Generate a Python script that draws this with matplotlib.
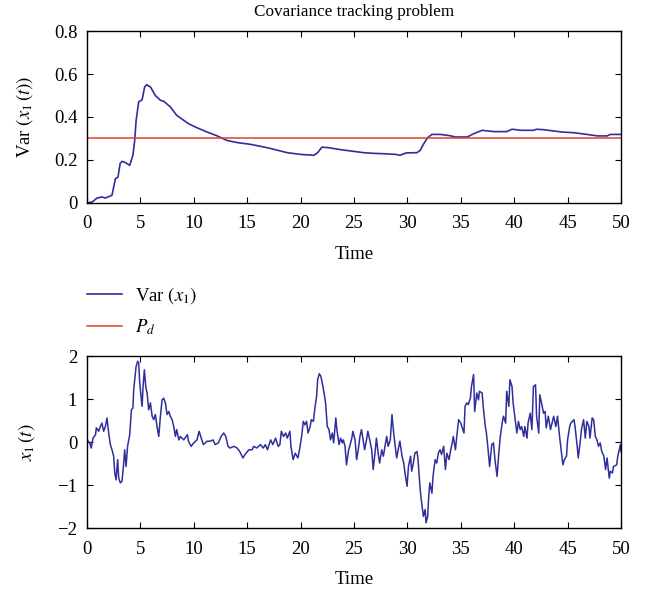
import numpy as np
import matplotlib.pyplot as plt

plt.rcParams['font.family'] = ['Liberation Serif', 'DejaVu Serif']
plt.rcParams['mathtext.fontset'] = 'stix'
plt.rcParams['font.size'] = 13.5

# variance of x1 (top panel)
var_t = [0, 0.5, 0.94, 1.4, 1.72, 2.34, 2.66, 2.9, 3.1, 3.28, 3.6, 4.0, 4.3, 4.47,
         4.6, 4.84, 5.16, 5.4, 5.6, 5.94, 6.4, 6.9, 7.2, 7.8, 8.4, 9.5, 10.3, 11.25,
         12.2, 13.1, 14.06, 15.3, 16.9, 18.75, 20.0, 21.25, 21.6, 22.0, 22.66, 23.75,
         25.0, 25.9, 26.8, 27.9, 28.9, 29.3, 29.9, 30.9, 31.2, 31.5, 31.9, 32.3, 33.1,
         34.0, 34.5, 35.6, 36.2, 37.0, 38.1, 39.3, 39.8, 40.7, 41.8, 42.1, 42.75, 43.7,
         44.5, 45.6, 46.8, 47.8, 48.7, 49.0, 50.0]
var_x1 = [0, 0.005, 0.023, 0.028, 0.023, 0.036, 0.113, 0.12, 0.183, 0.194, 0.188,
          0.175, 0.222, 0.291, 0.384, 0.47, 0.48, 0.54, 0.55, 0.54, 0.50, 0.477, 0.473,
          0.447, 0.408, 0.369, 0.35, 0.33, 0.312, 0.291, 0.281, 0.273, 0.257, 0.234,
          0.226, 0.222, 0.234, 0.26, 0.257, 0.248, 0.24, 0.234, 0.231, 0.229, 0.226,
          0.222, 0.233, 0.234, 0.245, 0.273, 0.304, 0.319, 0.319, 0.313, 0.307, 0.307,
          0.322, 0.338, 0.332, 0.332, 0.343, 0.338, 0.338, 0.343, 0.341, 0.335, 0.33,
          0.327, 0.319, 0.312, 0.312, 0.319, 0.319]
p_d = 0.3

# sample path x1(t) (bottom panel)
x1_t = [0, 0.25, 0.4, 0.56, 0.8, 0.875, 1.1, 1.25, 1.4, 1.56, 1.72, 1.875, 2.03, 2.19,
        2.34, 2.5, 2.6, 2.72, 2.875, 2.97, 3.125, 3.28, 3.44, 3.53, 3.66, 3.8, 4.0,
        4.16, 4.3, 4.375, 4.47, 4.6, 4.75, 4.84, 4.94, 5.06, 5.16, 5.25, 5.375, 5.5,
        5.625, 5.78, 5.94, 6.1, 6.25, 6.4, 6.56, 6.72, 6.875, 7.03, 7.19, 7.34, 7.5,
        7.66, 7.8, 7.97, 8.125, 8.28, 8.4, 8.6, 8.75, 9.06, 9.4, 9.5, 9.75, 10.0, 10.3,
        10.5, 10.7, 10.9, 11.25, 11.56, 11.8, 12.0, 12.3, 12.56, 12.8, 13.0, 13.2,
        13.4, 13.75, 14.06, 14.3, 14.6, 14.8, 15.16, 15.47, 15.6, 15.9, 16.25, 16.5,
        16.7, 16.9, 17.2, 17.4, 17.66, 17.9, 18.06, 18.2, 18.4, 18.6, 18.75, 19.0,
        19.1, 19.3, 19.5, 19.75, 19.9, 20.1, 20.25, 20.4, 20.56, 20.7, 20.9, 21.0,
        21.2, 21.34, 21.5, 21.6, 21.75, 21.9, 22.0, 22.2, 22.34, 22.5, 22.66, 22.8,
        22.97, 23.1, 23.3, 23.4, 23.6, 23.75, 23.9,
        24.0, 24.16, 24.3, 24.5, 24.6, 24.8, 24.9, 25.1, 25.25, 25.4, 25.56, 25.7,
        25.9, 26.0, 26.2, 26.3, 26.5, 26.66, 26.8, 27.0, 27.1, 27.3, 27.4, 27.6, 27.75,
        27.9, 28.06, 28.2, 28.4, 28.56, 28.7, 28.9, 29.0, 29.2, 29.3, 29.5, 29.66,
        29.8, 29.97, 30.1, 30.3, 30.4, 30.56, 30.7, 30.9, 31.0, 31.2, 31.3, 31.5,
        31.66, 31.75, 31.9, 32.0, 32.1, 32.3, 32.4, 32.6, 32.75, 32.9, 33.06, 33.2,
        33.4, 33.56, 33.7, 33.9, 34.06, 34.2, 34.3, 34.5, 34.66, 34.8, 35.0, 35.1,
        35.3, 35.4, 35.56, 35.7, 35.9, 36.0, 36.2, 36.3, 36.5, 36.66, 36.75, 37.0,
        37.1, 37.3, 37.4, 37.56, 37.7, 37.9, 38.06, 38.2, 38.4, 38.56, 38.7, 38.9,
        39.0, 39.2, 39.3, 39.5, 39.6, 39.8, 39.9, 40.1, 40.25, 40.4, 40.56, 40.7,
        40.9, 41.0, 41.2, 41.3, 41.5, 41.66, 41.8, 42.0, 42.1, 42.3, 42.4, 42.56,
        42.75, 42.9, 43.0, 43.2, 43.4, 43.7, 43.9, 44.06, 44.25, 44.4, 44.56, 44.7,
        44.9, 45.0, 45.2, 45.3, 45.6, 45.7, 45.9, 46.0, 46.2, 46.3, 46.5, 46.66, 46.8,
        47.0, 47.1, 47.3, 47.44, 47.6, 47.75, 47.9, 48.06, 48.2, 48.4, 48.56, 48.7,
        48.9, 49.0, 49.2, 49.3, 49.6, 49.7, 49.84, 49.94, 50.0]
x1 = [0.05, -0.02, -0.14, 0.09, 0.17, 0.33, 0.25, 0.36, 0.44, 0.25, 0.36, 0.56, 0.21,
      -0.06, -0.18, -0.33, -0.72, -0.88, -0.41, -0.84, -0.95, -0.91, -0.49, -0.18,
      -0.57, -0.10, 0.17, 0.75, 0.79, 1.22, 1.45, 1.76, 1.88, 1.84, 1.37, 1.06, 0.83,
      1.29, 1.68, 1.29, 1.14, 0.75, 0.91, 0.60, 0.52, 0.64, 0.36, 0.13, 0.60, 0.98,
      1.02, 0.91, 0.64, 0.71, 0.60, 0.52, 0.36, 0.13, 0.29, 0.05, 0.13, 0.05, 0.17,
      0.02, -0.10, -0.02, 0.05, 0.25, 0.09, -0.06, 0.02, 0.02, 0.05, -0.06, -0.02,
      0.13, 0.21, 0.13, -0.10, -0.14, -0.10, -0.14, -0.22, -0.37, -0.29, -0.18, -0.18,
      -0.10, -0.14, -0.06, -0.14, -0.06, -0.18, 0.05, -0.06, 0.09, -0.10, -0.06, 0.25,
      0.13, 0.21, 0.09, 0.25, -0.10, -0.41, -0.26, -0.37, -0.18, 0.13, 0.48, 0.40,
      0.48, 0.21, 0.36, 0.52, 0.48, 0.79, 1.06, 1.45, 1.59, 1.53, 1.41, 1.14, 0.91,
      0.36, 0.29, 0.05, 0.21, -0.02, 0.56, 0.29, -0.06, 0.09, -0.02,
      0.05, -0.10, -0.53, -0.18, -0.10, 0.09, 0.25, 0.05, -0.41, -0.18, 0.13, 0.29,
      -0.02, -0.18, 0.09, 0.25, 0.02, -0.18, -0.64, -0.18, 0.09, -0.33, -0.49, -0.18,
      -0.33, -0.10, 0.13, -0.10, 0.05, 0.64, 0.25, -0.18, -0.37, -0.10, 0.02, -0.33,
      -0.49, -0.76, -1.03, -0.57, -0.33, -0.68, -0.49, -0.26, -0.22, -0.41, -1.11,
      -1.34, -1.73, -1.57, -1.88, -1.73, -1.26, -0.95, -1.19, -0.80, -0.41, -0.49,
      -0.26, -0.18, -0.29, -0.10, -0.64, -0.26, -0.41, -0.18, -0.02, 0.13, -0.18,
      0.21, 0.52, 0.44, 0.36, 0.21, 0.83, 0.91, 0.87, 1.02, 1.29, 1.57, 0.71, 1.14,
      0.98, 1.18, 1.14, 0.83, 0.36, 0.21, -0.18, -0.57, -0.06, -0.02, -0.41, -0.80,
      -0.26, 0.13, 0.48, 0.60, 0.44, 1.18, 0.83, 1.45, 1.29, 0.91, 0.52, 0.21, 0.48,
      0.29, 0.36, 0.13, 0.36, 0.09, 0.44, 0.67, 0.29, 1.29, 1.33, 0.60, 0.21, 1.10,
      0.91, 0.67, 0.71, 0.33, 0.60, 0.29, 0.60, 0.36, 0.60, 0.13, -0.18, -0.53, -0.41,
      -0.33, 0.05, 0.36, 0.44, 0.52, 0.36, -0.10, -0.37, 0.05, 0.29, 0.52, 0.09, 0.48,
      0.36, 0.09, 0.56, 0.52, 0.13, 0.05, -0.10, -0.02, -0.22, -0.33, -0.64, -0.37,
      -0.84, -0.68, -0.72, -0.57, -0.53, -0.33, -0.18, -0.06, -0.22]

blue = '#2f2f9c'
red = '#e2402a'

fig = plt.figure(figsize=(6.54, 5.93), dpi=100)
ax1 = fig.add_axes([0.133, 0.6577, 0.8165, 0.29])
ax2 = fig.add_axes([0.133, 0.1096, 0.8165, 0.29])

l1, = ax1.plot(var_t, var_x1, color=blue, lw=1.2, label='Var $(x_1)$')
l2 = ax1.axhline(p_d, color=red, lw=1.1, label='$P_d$')
ax1.set_xlim(0, 50)
ax1.set_ylim(0, 0.8)
ax1.set_yticks([0, 0.2, 0.4, 0.6, 0.8])
ax1.set_yticklabels(['0', '0.2', '0.4', '0.6', '0.8'])
ax1.set_xlabel('Time')
ax1.set_ylabel('Var $(x_1\\,(t))$')
ax1.set_title('Covariance tracking problem', fontsize=12.3, pad=11)
ax1.yaxis.set_label_coords(-0.097, 0.5)

ax2.plot(x1_t, x1, color=blue, lw=1.1)
ax2.set_xlim(0, 50)
ax2.set_ylim(-2, 2)
ax2.set_yticks([-2, -1, 0, 1, 2])
ax2.set_xlabel('Time')
ax2.set_ylabel('$x_1\\,(t)$')
ax2.yaxis.set_label_coords(-0.094, 0.5)

for ax in (ax1, ax2):
    ax.set_xticks(np.arange(0, 51, 5))
    ax.tick_params(direction='in', top=True, right=True, length=4, width=0.8)
    ax.tick_params(axis='x', pad=9)
    ax.tick_params(axis='y', pad=7)
    ax.xaxis.set_label_coords(0.5, -0.25)
    for s in ax.spines.values():
        s.set_linewidth(1.0)

fig.legend(handles=[l1, l2], loc='upper left', bbox_to_anchor=(0.133, 0.519),
           frameon=False, handlelength=1.87, handletextpad=0.7, labelspacing=0.61,
           borderpad=0, borderaxespad=0)

fig.savefig('out.png', dpi=100)
